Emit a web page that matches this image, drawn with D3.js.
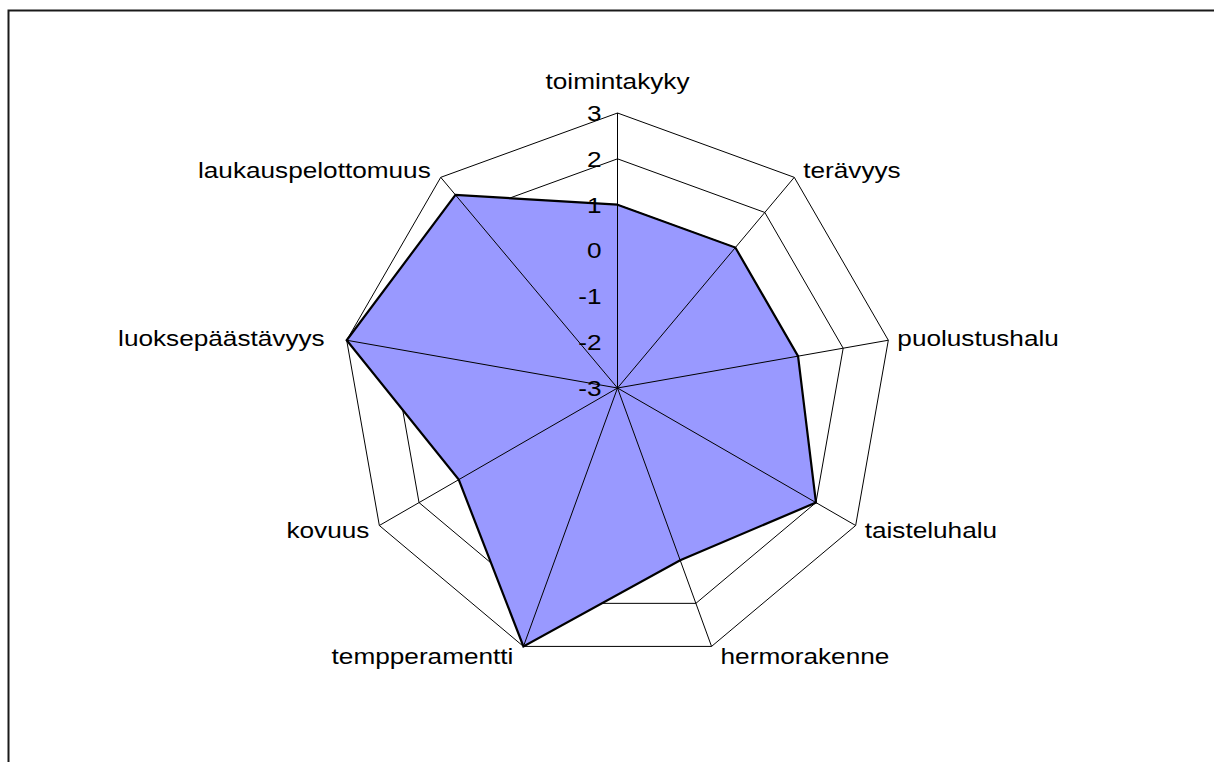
<!DOCTYPE html>
<html lang="fi">
<head>
    <meta charset="UTF-8">
    <title>Luonneprofiili</title>
    <script src="https://d3js.org/d3.v7.min.js"></script>
    <style>
        body {
            margin: 0;
            background-color: #fff;
        }
        svg text {
            font-family: "Liberation Sans", Arial, sans-serif;
            font-size: 22px;
            fill: #000;
        }
        .ring, .spoke {
            fill: none;
            stroke: #000;
            stroke-width: 1px;
        }
        .area {
            fill: #9999ff;
        }
        .outline {
            fill: none;
            stroke: #000;
            stroke-width: 2.2px;
            stroke-linejoin: miter;
        }
    </style>
</head>
<body>
    <svg width="1214" height="762"></svg>

    <script>
        // Ominaisuudet myötäpäivään ylhäältä alkaen
        const categories = [
            "toimintakyky", "terävyys", "puolustushalu", "taisteluhalu",
            "hermorakenne", "tempperamentti", "kovuus", "luoksepäästävyys",
            "laukauspelottomuus"
        ];
        const values = [1, 1, 1, 2, 1, 3, 1, 3, 2.5];
        const ticks = [-3, -2, -1, 0, 1, 2, 3];

        const cx = 617.5, cy = 388, R = 275;
        const sx = 1.19; // teksti on hieman leveämpää kuin normaalisti

        const svg = d3.select("svg");

        // ulkokehys
        svg.append("rect")
            .attr("x", 8.5).attr("y", 10.5)
            .attr("width", 1300).attr("height", 900)
            .attr("fill", "none")
            .attr("stroke", "#1a1a1a")
            .attr("stroke-width", 2);

        const r = d3.scaleLinear().domain([-3, 3]).range([0, R]);
        const angle = d3.scaleLinear().domain([0, categories.length]).range([0, 2 * Math.PI]);

        const pt = (i, v) => [cx + r(v) * Math.sin(angle(i)), cy - r(v) * Math.cos(angle(i))];

        const line = d3.line();

        // kehät
        svg.selectAll(".ring")
            .data(ticks.slice(1))
            .enter().append("path")
            .attr("class", "ring")
            .attr("d", t => line(categories.map((c, i) => pt(i, t))) + "Z");

        // täytetty alue
        const poly = line(values.map((v, i) => pt(i, v))) + "Z";
        svg.append("path").attr("class", "area").attr("d", poly);

        // säteet
        svg.selectAll(".spoke")
            .data(categories)
            .enter().append("line")
            .attr("class", "spoke")
            .attr("x1", cx).attr("y1", cy)
            .attr("x2", (c, i) => pt(i, 3)[0])
            .attr("y2", (c, i) => pt(i, 3)[1]);

        svg.append("path").attr("class", "outline").attr("d", poly);

        // asteikon luvut
        svg.selectAll(".tick")
            .data(ticks)
            .enter().append("g")
            .attr("transform", t => `translate(${cx - 16},${cy - r(t)})`)
            .append("text")
            .attr("transform", `scale(${sx},1)`)
            .attr("text-anchor", "end")
            .attr("dy", "0.36em")
            .text(t => t);

        // kategorioiden nimet
        svg.selectAll(".label")
            .data(categories)
            .enter().append("g")
            .attr("transform", (c, i) => {
                const a = angle(i), s = Math.sin(a), co = Math.cos(a);
                const [x, y] = pt(i, 3);
                if (Math.abs(s) < 0.1) return `translate(${x},${y - 32})`;
                let dx = s > 0 ? 9 : -10;
                if (s < -0.9) dx = -22; // vasemman reunan nimi on kauempana
                return `translate(${x + dx},${y - co * 10})`;
            })
            .append("text")
            .attr("transform", `scale(${sx},1)`)
            .attr("text-anchor", (c, i) => {
                const s = Math.sin(angle(i));
                return Math.abs(s) < 0.1 ? "middle" : (s > 0 ? "start" : "end");
            })
            .attr("dy", "0.36em")
            .text(c => c);
    </script>
</body>
</html>
